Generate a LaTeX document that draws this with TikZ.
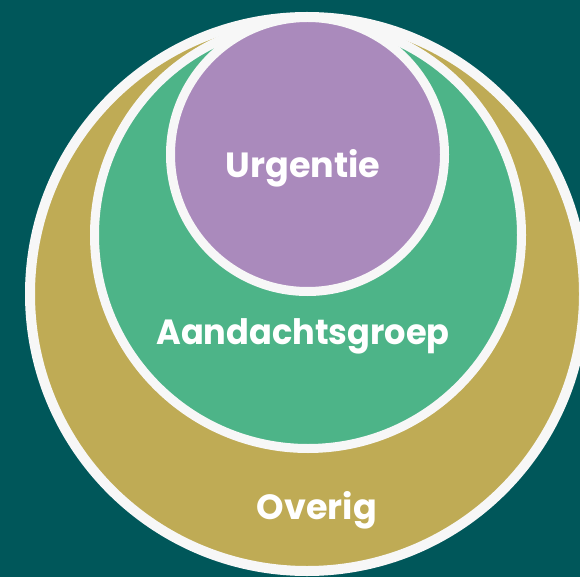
\documentclass[tikz,border=0pt]{standalone}
\usepackage{fontspec}
\setmainfont{Poppins}
\definecolor{bgteal}{HTML}{00575A}
\definecolor{gold}{HTML}{BFAB55}
\definecolor{green}{HTML}{4DB488}
\definecolor{purple}{HTML}{AA8ABC}
\definecolor{ringwhite}{HTML}{F7F7F7}
\begin{document}
\begin{tikzpicture}[x=1pt,y=-1pt,
  ring/.style={circle, draw=ringwhite, inner sep=0pt, outer sep=0pt},
  lbl/.style={text=white, font=\fontsize{35}{40}\selectfont\bfseries, anchor=base, inner sep=0pt}]
\useasboundingbox (0,0) rectangle (580,577);
\fill[bgteal] (0,0) rectangle (580,577);
\node[ring, fill=gold, line width=10pt, minimum size=554pt] (overig) at (307,294) {};
\node[ring, fill=green, line width=9pt, minimum size=427pt] (aandacht) at (308,235) {};
\node[ring, fill=purple, line width=9pt, minimum size=274pt] (urgentie) at (307.5,154.5) {};
\node[lbl] (t1) at (303,178) {Urgentie};
\node[lbl, xscale=0.96] (t2) at (303,344) {Aandachtsgroep};
\node[lbl] (t3) at (317,519) {Overig};
\end{tikzpicture}
\end{document}
